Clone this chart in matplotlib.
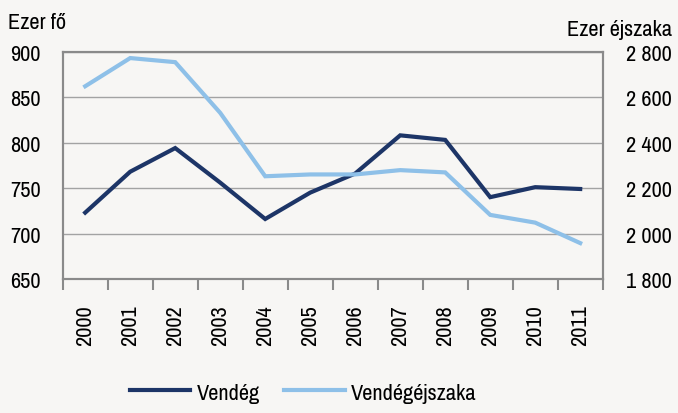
import matplotlib
matplotlib.use("Agg")
import matplotlib.pyplot as plt
from matplotlib.ticker import FuncFormatter, FixedLocator

# Years and series (Vendég: ezer fő, Vendégéjszaka: ezer éjszaka)
years = ['2000', '2001', '2002', '2003', '2004', '2005',
         '2006', '2007', '2008', '2009', '2010', '2011']
vendeg = [723, 768, 794, 756, 716, 745, 766, 808, 803, 740, 751, 749]
vendegejszaka = [2648, 2772, 2754, 2531, 2252, 2260, 2260, 2279, 2269,
                 2082, 2048, 1958]

left_ticks = [650, 700, 750, 800, 850, 900]
right_ticks = [1800, 2000, 2200, 2400, 2600, 2800]

bg = '#f7f6f4'
dark = '#1d3567'
light = '#8ec0e8'
spine_col = '#8a8a8a'

plt.rcParams['font.family'] = ['Pragati Narrow', 'Roboto Condensed', 'Liberation Sans', 'DejaVu Sans']
fs = 17.5

fig = plt.figure(figsize=(6.78, 4.14), dpi=100, facecolor=bg)
ax = fig.add_axes([62.7 / 678, 1 - 280 / 414, 540 / 678, 227.3 / 414])
ax.set_facecolor(bg)
ax2 = ax.twinx()

x = list(range(len(years)))
line1, = ax.plot(x, vendeg, color=dark, lw=3.0, solid_joinstyle='miter', zorder=3, label='Vendég')
line2, = ax2.plot(x, vendegejszaka, color=light, lw=3.0, solid_joinstyle='miter', zorder=3, label='Vendégéjszaka')

ax.set_xlim(-0.5, len(years) - 0.5)
ax.set_ylim(650, 900)
ax2.set_ylim(1800, 2800)

ax.set_yticks(left_ticks)
ax2.set_yticks(right_ticks)
ax2.yaxis.set_major_formatter(FuncFormatter(lambda v, p: f'{int(v):,}'.replace(',', ' ')))

ax.grid(axis='y', color='#a3a3a3', lw=1.0)
ax.set_axisbelow(True)

ax.set_xticks(x)
ax.set_xticklabels(years, rotation=90, fontsize=fs)
ax.xaxis.set_minor_locator(FixedLocator([i - 0.5 for i in range(len(years) + 1)]))
ax.tick_params(axis='x', which='major', length=0, pad=18)
ax.tick_params(axis='x', which='minor', length=8, width=1.5, color=spine_col, direction='out')
for lab in ax.get_xticklabels():
    lab.set_va('top')

ax.tick_params(axis='y', length=0, pad=16, labelsize=fs)
ax2.tick_params(axis='y', length=0, pad=50, labelsize=fs)
for lab in ax2.get_yticklabels():
    lab.set_ha('right')

for a in (ax, ax2):
    for s in a.spines.values():
        s.set_color(spine_col)
        s.set_linewidth(1.5)

fig.text(8 / 678, 1 - 23 / 414, 'Ezer fő', fontsize=fs, ha='left', va='center')
fig.text(672 / 678, 1 - 30 / 414, 'Ezer éjszaka', fontsize=fs, ha='right', va='center')

fig.legend(handles=[line1, line2], loc='center', bbox_to_anchor=(303 / 678, 1 - 393 / 414),
           ncol=2, frameon=False, fontsize=fs, handlelength=2.5, handletextpad=0.25,
           columnspacing=1.0)

fig.savefig('out.png', dpi=100, facecolor=bg)
